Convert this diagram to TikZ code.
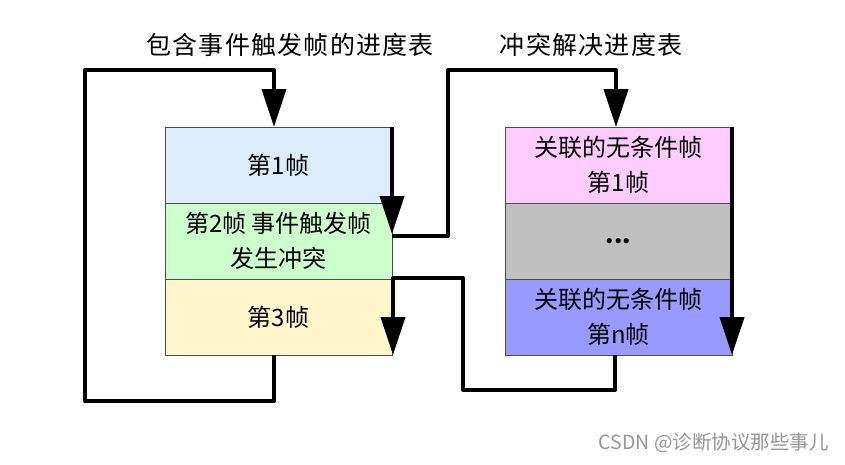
\documentclass[tikz,border=0pt]{standalone}
\usepackage{fontspec}
\setmainfont{Noto Sans CJK SC}
\newfontfamily\titlefont[LetterSpace=5]{Noto Sans CJK SC}
\usetikzlibrary{arrows.meta}
\definecolor{cA}{RGB}{221,236,250}
\definecolor{cB}{RGB}{204,255,204}
\definecolor{cC}{RGB}{255,246,204}
\definecolor{cD}{RGB}{255,204,255}
\definecolor{cE}{RGB}{192,192,192}
\definecolor{cF}{RGB}{153,153,255}
\definecolor{wm}{RGB}{150,150,150}
\tikzset{
  row/.style={draw=black!70, line width=0.8pt, minimum width=227pt, minimum height=76pt,
    inner sep=0pt, align=center, font=\fontsize{24}{35}\selectfont},
  flow/.style={line width=4pt, line join=round},
  flowarr/.style={flow, -{Triangle[width=24pt,length=38pt]}},
  ttl/.style={font=\titlefont\fontsize{25}{28}\selectfont, inner sep=0pt}
}
\begin{document}
\begin{tikzpicture}[x=1pt,y=-1pt]
\useasboundingbox (0,0) rectangle (845,464);
% left table
\node[row, fill=cA] (L1) at (278.5,165) {第1帧};
\node[row, fill=cB] (L2) at (278.5,241) {第2帧 事件触发帧\\发生冲突};
\node[row, fill=cC] (L3) at (278.5,317) {第3帧};
% right table
\node[row, fill=cD] (R1) at (618.5,165) {关联的无条件帧\\第1帧};
\node[row, fill=cE] (R2) at (618.5,241) {\textbf{...}};
\node[row, fill=cF] (R3) at (618.5,317) {关联的无条件帧\\第n帧};
% titles
\node[ttl] (T1) at (290,45) {包含事件触发帧的进度表};
\node[ttl] (T2) at (591,45) {冲突解决进度表};
% watermark
\node[font=\fontsize{19.5}{22}\selectfont, text=wm, inner sep=0pt, anchor=east] (W) at (829,443) {CSDN @诊断协议那些事儿};
% coordinates
\coordinate (L1top) at (274,127);
\coordinate (L3bot) at (274,355);
\coordinate (Lr1) at (392,127);
\coordinate (Lr2) at (392,234);
\coordinate (Lr2b) at (392,236);
\coordinate (Lr3) at (393,278);
\coordinate (Lr4) at (393,355);
\coordinate (R1top) at (616,127);
\coordinate (R3bot) at (615,355);
\coordinate (Rr1) at (732,127);
\coordinate (Rr3) at (732,355);
% connectors
\draw[flowarr] (L3bot) -- (274,401) -- (85,401) -- (85,70) -- (274,70) -- (L1top);
\draw[flowarr] (Lr1) -- (Lr2);
\draw[flowarr] (Lr2b) -- (448,236) -- (448,70) -- (616,70) -- (R1top);
\draw[flowarr] (Rr1) -- (Rr3);
\draw[flowarr] (R3bot) -- (615,390) -- (463,390) -- (463,278) -- (Lr3) -- (Lr4);
\end{tikzpicture}
\end{document}
